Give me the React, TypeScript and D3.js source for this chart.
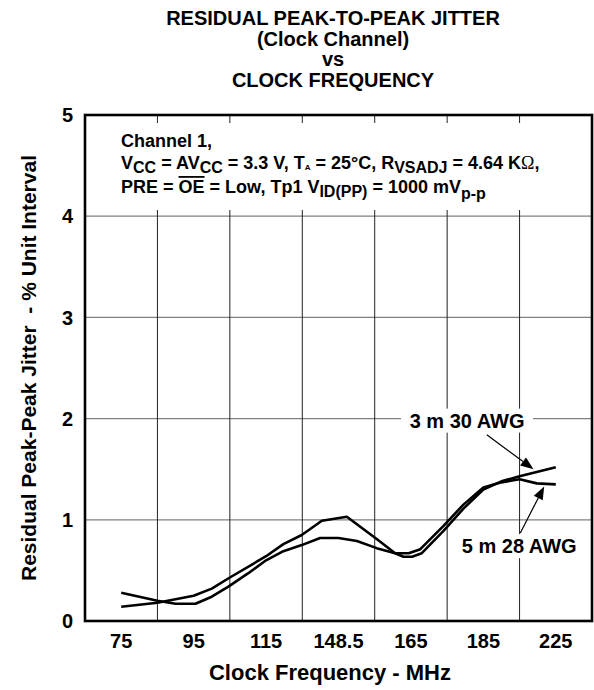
import React from 'react';
import * as d3 from 'd3';

const xLabels = ['75', '95', '115', '148.5', '165', '185', '225'];
const xValues = [75, 95, 115, 148.5, 165, 185, 225];
const yTicks = [0, 1, 2, 3, 4, 5];

const titleLines = ['RESIDUAL PEAK-TO-PEAK JITTER', '(Clock Channel)', 'vs', 'CLOCK FREQUENCY'];

const freq30 = [75, 85, 95, 100, 105, 115, 123, 131.5, 140.8, 150.4, 157.2, 161.4, 163.3, 165.3, 168, 174, 179.5, 185, 195, 205, 225];
const jitter30 = [0.14, 0.18, 0.25, 0.32, 0.43, 0.64, 0.76, 0.85, 0.99, 1.03, 0.81, 0.67, 0.635, 0.635, 0.67, 0.89, 1.11, 1.3, 1.38, 1.43, 1.52];

const freq28 = [75, 85, 90, 95.5, 100, 104.6, 110, 115, 123, 131.5, 140, 148.5, 152.7, 157.2, 161.4, 164.5, 167.6, 174, 179.5, 185, 195, 205, 214.5, 225];
const jitter28 = [0.28, 0.2, 0.17, 0.17, 0.24, 0.34, 0.47, 0.6, 0.69, 0.75, 0.82, 0.82, 0.79, 0.72, 0.67, 0.67, 0.71, 0.94, 1.15, 1.32, 1.37, 1.4, 1.36, 1.35];

const seriesNames = ['3 m 30 AWG', '5 m 28 AWG'];
// label centre (freq, value), arrow start, arrow tip
const labelPos = [
  { f: 180.5, v: 1.98, sf: 186.9, sv: 1.84, tf: 212.7, tv: 1.5 },
  { f: 204.8, v: 0.74, sf: 205.4, sv: 0.87, tf: 218.6, tv: 1.33 },
];

const FONT = '"Liberation Sans", Arial, Helvetica, sans-serif';

export default function App() {
  const W = 594, H = 690;
  const left = 85, right = 592, top = 115, bottom = 621;

  const xBand = d3.scaleBand<string>().domain(xLabels).range([left, right]).padding(0);
  const bw = xBand.bandwidth();
  const centers = xLabels.map((l) => (xBand(l) as number) + bw / 2);
  const x = d3.scaleLinear().domain(xValues).range(centers);
  const y = d3.scaleLinear().domain([0, 5]).range([bottom, top]);

  const line = d3.line<[number, number]>().x((d) => x(d[0])).y((d) => y(d[1]));
  const d30 = line(freq30.map((f, i) => [f, jitter30[i]]) as [number, number][]) || '';
  const d28 = line(freq28.map((f, i) => [f, jitter28[i]]) as [number, number][]) || '';

  const vGrid = xLabels.slice(1).map((l) => xBand(l) as number);

  const arrows = labelPos.map((p) => {
    const x1 = x(p.sf), y1 = y(p.sv), x2 = x(p.tf), y2 = y(p.tv);
    const ang = Math.atan2(y2 - y1, x2 - x1);
    const L = 13, hw = 5;
    const bx = x2 - L * Math.cos(ang), by = y2 - L * Math.sin(ang);
    const px = -Math.sin(ang) * hw, py = Math.cos(ang) * hw;
    return {
      x1, y1, bx, by,
      tri: `M${x2},${y2}L${bx + px},${by + py}L${bx - px},${by - py}Z`,
    };
  });

  const titleCx = 333;
  const annX = 121;
  const sub = { fontSize: 16 } as React.CSSProperties;

  return (
    <svg width={W} height={H} style={{ position: 'absolute', left: 0, top: 0, background: '#fff' }} fontFamily={FONT}>
      <rect x={0} y={0} width={W} height={H} fill="#fff" />
      {/* Title */}
      {titleLines.map((t, i) => (
        <text key={i} x={titleCx} y={25 + i * 20.6} textAnchor="middle" fontSize={20} fontWeight="bold" fill="#000">{t}</text>
      ))}

      {/* grid */}
      {yTicks.slice(1, -1).map((t) => (
        <line key={t} x1={left} x2={right} y1={y(t)} y2={y(t)} stroke="#808080" strokeWidth={1.3} />
      ))}
      {vGrid.map((gx, i) => (
        <line key={i} x1={gx} x2={gx} y1={top} y2={bottom} stroke="#222" strokeWidth={1} />
      ))}

      {/* condition box */}
      <rect x={left + 1} y={123} width={right - left - 2} height={87} fill="#fff" />
      <g fontSize={18} fontWeight="bold" fill="#000">
        <text x={annX} y={147}>Channel 1,</text>
        <text x={annX} y={169}>
          <tspan>V</tspan><tspan dy={4} style={sub}>CC</tspan><tspan dy={-4}> = AV</tspan><tspan dy={4} style={sub}>CC</tspan>
          <tspan dy={-4}> = 3.3 V, T</tspan><tspan dy={1} style={{ fontSize: 8 }}>A</tspan><tspan dy={-1}> = 25°C, R</tspan>
          <tspan dy={4} style={sub}>VSADJ</tspan><tspan dy={-4}> = 4.64 K</tspan>
          <tspan style={{ fontFamily: '"Liberation Serif", "DejaVu Serif", serif', fontWeight: 'normal' }}>Ω</tspan><tspan>,</tspan>
        </text>
        <text x={annX} y={193}>
          <tspan>PRE = </tspan><tspan style={{ textDecoration: 'overline' }}>OE</tspan><tspan> = Low, Tp1 V</tspan>
          <tspan dy={4} style={sub}>ID(PP)</tspan><tspan dy={-4}> = 1000 mV</tspan><tspan dy={6} style={sub}>p-p</tspan>
        </text>
      </g>

      {/* curves */}
      <path d={d30} fill="none" stroke="#000" strokeWidth={2.6} strokeLinejoin="round" />
      <path d={d28} fill="none" stroke="#000" strokeWidth={2.6} strokeLinejoin="round" />

      {/* series labels */}
      {labelPos.map((p, i) => (
        <g key={i}>
          <rect x={x(p.f) - 66} y={y(p.v) - 12} width={132} height={24} fill="#fff" />
          <text x={x(p.f)} y={y(p.v)} dy="0.36em" textAnchor="middle" fontSize={20} fontWeight="bold" fill="#000">{seriesNames[i]}</text>
        </g>
      ))}
      {arrows.map((a, i) => (
        <g key={i}>
          <line x1={a.x1} y1={a.y1} x2={a.bx} y2={a.by} stroke="#000" strokeWidth={1.2} />
          <path d={a.tri} fill="#000" />
        </g>
      ))}

      {/* frame */}
      <rect x={left} y={top} width={right - left} height={bottom - top} fill="none" stroke="#000" strokeWidth={2.6} />

      {/* y ticks */}
      {yTicks.map((t) => (
        <text key={t} x={73} y={y(t)} dy="0.36em" textAnchor="end" fontSize={20} fontWeight="bold" fill="#000">{t}</text>
      ))}
      {/* x ticks */}
      {xLabels.map((l, i) => (
        <text key={l} x={centers[i]} y={648} textAnchor="middle" fontSize={20} fontWeight="bold" fill="#000">{l}</text>
      ))}
      <text x={330} y={680} textAnchor="middle" fontSize={22} fontWeight="bold" fill="#000">Clock Frequency - MHz</text>
      <text transform={`translate(36,${(top + bottom) / 2}) rotate(-90)`} textAnchor="middle" fontSize={21} fontWeight="bold" fill="#000" style={{ whiteSpace: 'pre' }}>
        {'Residual Peak-Peak Jitter  - % Unit Interval'}
      </text>
    </svg>
  );
}
